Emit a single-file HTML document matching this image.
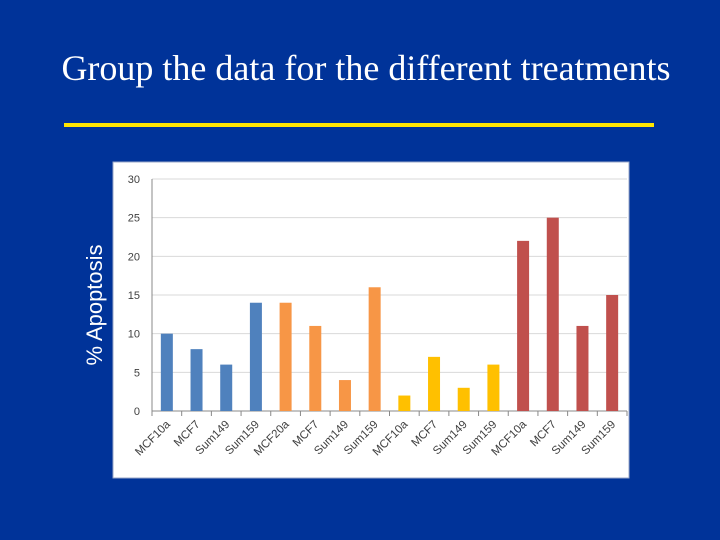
<!DOCTYPE html>
<html><head><meta charset="utf-8"><style>
body{margin:0;width:720px;height:540px;background:#003399;overflow:hidden;position:relative;font-family:"Liberation Sans",sans-serif}
#title{position:absolute;left:0;top:47px;width:732px;text-align:center;color:#fff;font-family:"Liberation Serif",serif;font-size:36px}
#rule{position:absolute;left:64px;top:123px;width:590px;height:4px;background:#ffe600}
#ylab{position:absolute;left:95px;top:305px;transform:translate(-50%,-50%) rotate(-90deg);color:#fff;font-size:22px;white-space:nowrap}
svg{position:absolute;left:0;top:0}
</style></head><body>
<div id="title">Group the data for the different treatments</div>
<div id="rule"></div>
<div id="ylab">% Apoptosis</div>
<svg id="chart" width="720" height="540"></svg>
<script>
const categories=["MCF10a","MCF7","Sum149","Sum159","MCF20a","MCF7","Sum149","Sum159","MCF10a","MCF7","Sum149","Sum159","MCF10a","MCF7","Sum149","Sum159"];
const values=[10,8,6,14,14,11,4,16,2,7,3,6,22,25,11,15];
const groups=[0,0,0,0,1,1,1,1,2,2,2,2,3,3,3,3];
const groupColors=["#4f81bd","#f79646","#ffc000","#c0504d"];
const yTicks=[0,5,10,15,20,25,30];
const NS="http://www.w3.org/2000/svg";
const svg=document.getElementById('chart');
const X0=152,X1=627,Y0=411,Y1=179,YMAX=30;
const bw=(X1-X0)/categories.length;
const y=v=>Y0-(v/YMAX)*(Y0-Y1);
const x=i=>X0+i*bw;
function mk(t,a){const e=document.createElementNS(NS,t);for(const k in a)e.setAttribute(k,a[k]);svg.appendChild(e);return e;}
let bg=mk('rect',{x:113,y:162,width:516,height:316,fill:'#fff',stroke:'#9aa7c8','stroke-width':1});


yTicks.forEach(t=>{
  let g=mk('line',{x1:X0,x2:X1,y1:y(t),y2:y(t),stroke:t?'#d9d9d9':'#888','stroke-width':1});
  
  
  let l=mk('text',{x:X0-12,y:y(t)+4,'text-anchor':'end','font-size':11,fill:'#404040'});
  l.textContent=t;
  
  
});
mk('line',{x1:X0,x2:X0,y1:Y1,y2:Y0,stroke:'#888'});
categories.forEach((c,i)=>{
  mk('line',{x1:x(i),x2:x(i),y1:Y0,y2:Y0+5,stroke:'#888'});
  const cx=x(i)+bw/2;
  let r=mk('rect',{x:cx-6,y:y(values[i]),width:12,height:Y0-y(values[i]),fill:groupColors[groups[i]]});
  
  
  let t=mk('text',{x:cx+4,y:Y0+14,'text-anchor':'end','font-size':11.5,fill:'#404040',transform:`rotate(-45 ${cx+4} ${Y0+14})`});
  t.textContent=c;
  
  
});
mk('line',{x1:X1,x2:X1,y1:Y0,y2:Y0+5,stroke:'#888'});
</script>
</body></html>
